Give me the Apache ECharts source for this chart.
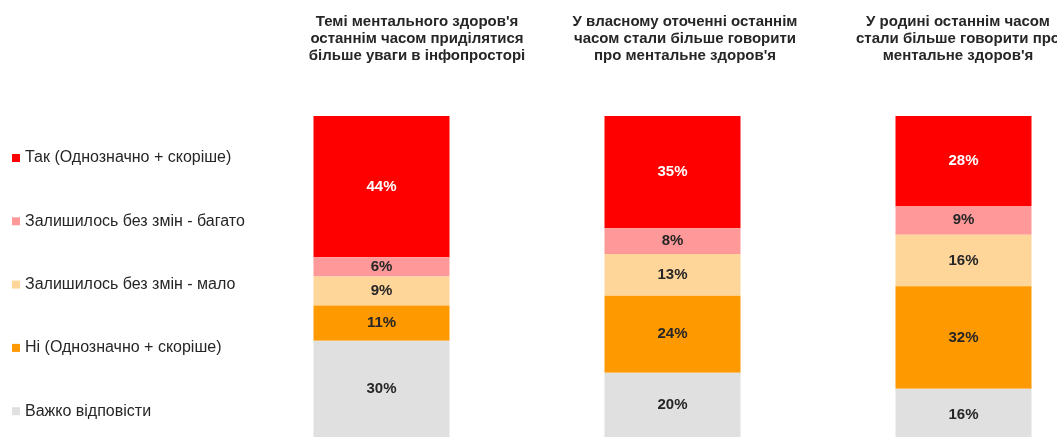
<!DOCTYPE html>
<html>
<head>
<meta charset="utf-8">
<script src="https://cdn.jsdelivr.net/npm/echarts@6/dist/echarts.min.js"></script>
<style>
html,body{margin:0;padding:0;background:#fff;}
#chart{width:1057px;height:437px;}
</style>
</head>
<body>
<div id="chart"></div>
<script>
const categories = [
  "Темі ментального здоров'я\nостаннім часом приділятися\nбільше уваги в інфопросторі",
  "У власному оточенні останнім\nчасом стали більше говорити\nпро ментальне здоров'я",
  "У родині останнім часом\nстали більше говорити про\nментальне здоров'я"
];
const seriesNames = [
  "Так (Однозначно + скоріше)",
  "Залишилось без змін - багато",
  "Залишилось без змін - мало",
  "Ні (Однозначно + скоріше)",
  "Важко відповісти"
];
const yesValues = [44, 35, 28];
const manyValues = [6, 8, 9];
const fewValues = [9, 13, 16];
const noValues = [11, 24, 32];
const hardValues = [30, 20, 16];

const colors = ["#FF0000", "#FF9999", "#FFD699", "#FF9900", "#E0E0E0"];
const dataSets = [yesValues, manyValues, fewValues, noValues, hardValues];
const titleCenters = [412, 680, 953];
const font = "'Liberation Sans', Arial, sans-serif";

const chart = echarts.init(document.getElementById('chart'), null, {renderer: 'canvas'});
const option = {
  animation: false,
  backgroundColor: '#ffffff',
  title: categories.map((t, i) => ({
    text: t,
    left: titleCenters[i],
    top: 8,
    padding: 5,
    textAlign: 'center',
    textStyle: {fontFamily: font, fontSize: 15, fontWeight: 'bold', color: '#262626', lineHeight: 17}
  })),
  legend: {
    orient: 'vertical',
    left: 7,
    top: 144,
    icon: 'rect',
    itemWidth: 8,
    itemHeight: 8,
    itemGap: 45.3,
    textStyle: {fontFamily: font, fontSize: 16, color: '#262626', lineHeight: 18},
    data: seriesNames
  },
  grid: {left: 381.5, top: 116, width: 582, height: 325, containLabel: false},
  xAxis: {type: 'category', data: categories, show: false, boundaryGap: false},
  yAxis: {type: 'value', min: 0, max: 100, show: false, inverse: true},
  series: seriesNames.map((name, i) => ({
    name: name,
    type: 'bar',
    stack: 'total',
    barWidth: 136,
    clip: false,
    data: dataSets[i],
    itemStyle: {color: colors[i]},
    label: {
      show: true,
      position: 'inside',
      formatter: '{c}%',
      fontFamily: font,
      fontSize: 15,
      fontWeight: 'bold',
      color: i === 0 ? '#ffffff' : '#262626'
    }
  }))
};
chart.setOption(option);
</script>
</body>
</html>
